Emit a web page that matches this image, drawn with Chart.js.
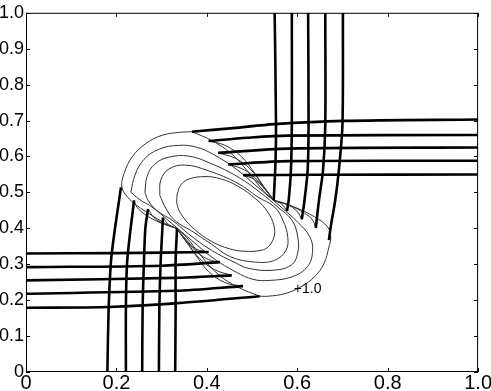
<!DOCTYPE html>
<html>
<head>
<meta charset="utf-8">
<script src="https://cdn.jsdelivr.net/npm/chart.js@4.4.0/dist/chart.umd.min.js"></script>
<style>
  html, body { margin: 0; padding: 0; background: #fff; }
  canvas { display: block; }
</style>
</head>
<body>
<canvas id="chart" width="491" height="391"></canvas>
<script>
// tick values
var xTicks = [0, 0.2, 0.4, 0.6, 0.8, 1];
var yTicks = [0, 0.1, 0.2, 0.3, 0.4, 0.5, 0.6, 0.7, 0.8, 0.9, 1];

// thick lines, each one as [x, y] pairs
var topLines = [
    [[0.550, 1], [0.553, 0.690], [0.552, 0.590], [0.548, 0.478]],
    [[0.588, 1], [0.588, 0.690], [0.586, 0.562], [0.581, 0.478], [0.577, 0.448]],
    [[0.624, 1], [0.625, 0.690], [0.623, 0.562], [0.616, 0.478], [0.610, 0.425]],
    [[0.662, 1], [0.662, 0.690], [0.657, 0.562], [0.648, 0.478], [0.641, 0.401]],
    [[0.701, 1], [0.700, 0.690], [0.692, 0.562], [0.684, 0.478], [0.674, 0.404], [0.670, 0.367]]
];
var rightLines = [
    [[0.367, 0.669], [0.458, 0.679], [0.550, 0.690], [0.700, 0.699], [1, 0.703]],
    [[0.404, 0.643], [0.490, 0.652], [0.579, 0.658], [1, 0.660]],
    [[0.425, 0.610], [0.579, 0.622], [1, 0.625]],
    [[0.447, 0.578], [0.579, 0.587], [1, 0.588]],
    [[0.480, 0.548], [0.645, 0.549], [1, 0.550]]
];
var bottomLines = [
    [[0.180, 0], [0.183, 0.181], [0.189, 0.322], [0.210, 0.514]],
    [[0.221, 0], [0.221, 0.181], [0.224, 0.311], [0.239, 0.478]],
    [[0.257, 0], [0.258, 0.181], [0.261, 0.311], [0.264, 0.400], [0.270, 0.454]],
    [[0.294, 0], [0.295, 0.181], [0.298, 0.311], [0.303, 0.430]],
    [[0.330, 0], [0.331, 0.181], [0.331, 0.311], [0.334, 0.399]]
];
var leftLines = [
    [[0, 0.330], [0.2, 0.331], [0.404, 0.334]],
    [[0, 0.292], [0.30, 0.296], [0.429, 0.306]],
    [[0, 0.255], [0.33, 0.262], [0.455, 0.269]],
    [[0, 0.218], [0.33, 0.226], [0.480, 0.239]],
    [[0, 0.179], [0.184, 0.181], [0.33, 0.191], [0.517, 0.211]]
];

// outer level curve, in four pieces (it has corners)
var outerCurve = [
    [[0.333, 0.400], [0.309, 0.413], [0.272, 0.441], [0.246, 0.463], [0.224, 0.488], [0.212, 0.515],
     [0.217, 0.553], [0.235, 0.599], [0.265, 0.636], [0.301, 0.659], [0.338, 0.667], [0.367, 0.669]],
    [[0.367, 0.669], [0.410, 0.645], [0.454, 0.608], [0.491, 0.558], [0.524, 0.506], [0.548, 0.478]],
    [[0.548, 0.478], [0.594, 0.459], [0.638, 0.432], [0.667, 0.404], [0.674, 0.376], [0.670, 0.348],
     [0.659, 0.302], [0.638, 0.265], [0.608, 0.237], [0.572, 0.218], [0.535, 0.211], [0.517, 0.211]],
    [[0.517, 0.211], [0.469, 0.236], [0.425, 0.272], [0.388, 0.322], [0.355, 0.375], [0.333, 0.400]]
];

// inner closed level curves
var contour1 = [[0.232, 0.501], [0.241, 0.548], [0.261, 0.592], [0.294, 0.620], [0.338, 0.631], [0.377, 0.626],
    [0.414, 0.606], [0.465, 0.565], [0.513, 0.514], [0.557, 0.467], [0.601, 0.417], [0.627, 0.378], [0.634, 0.339],
    [0.623, 0.294], [0.588, 0.265], [0.539, 0.255], [0.502, 0.258], [0.465, 0.278], [0.414, 0.317], [0.366, 0.367],
    [0.322, 0.414], [0.279, 0.459], [0.250, 0.481], [0.232, 0.501]];
var contour2 = [[0.263, 0.501], [0.268, 0.545], [0.285, 0.579], [0.316, 0.598], [0.360, 0.601], [0.408, 0.581],
    [0.469, 0.543], [0.520, 0.498], [0.557, 0.459], [0.588, 0.423], [0.601, 0.376], [0.601, 0.331], [0.586, 0.297],
    [0.542, 0.283], [0.491, 0.289], [0.465, 0.303], [0.410, 0.339], [0.360, 0.384], [0.325, 0.421], [0.289, 0.450],
    [0.270, 0.478], [0.263, 0.501]];
var contour3 = [[0.296, 0.492], [0.298, 0.534], [0.316, 0.565], [0.352, 0.576], [0.404, 0.560], [0.469, 0.525],
    [0.513, 0.487], [0.550, 0.459], [0.568, 0.423], [0.579, 0.376], [0.575, 0.339], [0.550, 0.311], [0.507, 0.306],
    [0.452, 0.321], [0.410, 0.356], [0.366, 0.393], [0.330, 0.421], [0.309, 0.456], [0.296, 0.492]];
var contour4 = [[0.334, 0.492], [0.342, 0.520], [0.360, 0.537], [0.396, 0.544], [0.430, 0.538], [0.469, 0.517],
    [0.509, 0.481], [0.535, 0.445], [0.548, 0.409], [0.549, 0.378], [0.537, 0.350], [0.520, 0.339], [0.485, 0.336],
    [0.450, 0.343], [0.410, 0.364], [0.373, 0.397], [0.346, 0.434], [0.334, 0.467], [0.334, 0.492]];

// thin fans between line ends and the two pinch points
var fanRight = [
    [[0.404, 0.643], [0.440, 0.631], [0.477, 0.599], [0.506, 0.553], [0.531, 0.506], [0.548, 0.478]],
    [[0.425, 0.610], [0.463, 0.595], [0.496, 0.565], [0.522, 0.523], [0.548, 0.478]],
    [[0.447, 0.578], [0.476, 0.567], [0.500, 0.548], [0.522, 0.520], [0.548, 0.478]],
    [[0.480, 0.548], [0.504, 0.537], [0.526, 0.512], [0.548, 0.478]]
];
var fanTop = [
    [[0.548, 0.478], [0.583, 0.464], [0.616, 0.442], [0.634, 0.423], [0.641, 0.401]],
    [[0.548, 0.478], [0.577, 0.467], [0.599, 0.448], [0.610, 0.425]],
    [[0.548, 0.478], [0.566, 0.467], [0.577, 0.448]]
];
var fanBottom = [
    [[0.333, 0.400], [0.296, 0.416], [0.264, 0.438], [0.246, 0.458], [0.239, 0.478]],
    [[0.333, 0.400], [0.305, 0.413], [0.283, 0.430], [0.270, 0.454]],
    [[0.333, 0.400], [0.316, 0.410], [0.303, 0.430]]
];
var fanLeft = [
    [[0.333, 0.400], [0.354, 0.369], [0.375, 0.343], [0.404, 0.334]],
    [[0.333, 0.400], [0.358, 0.360], [0.380, 0.332], [0.404, 0.313], [0.429, 0.306]],
    [[0.333, 0.400], [0.358, 0.357], [0.384, 0.316], [0.417, 0.285], [0.455, 0.269]],
    [[0.333, 0.400], [0.348, 0.374], [0.374, 0.328], [0.403, 0.281], [0.440, 0.249], [0.480, 0.239]]
];

var contourLabel = { text: '+1.0', x: 0.623, y: 0.232 };

function makeLine(points, width, color, tension) {
    return {
        data: points.map(function(p) { return { x: p[0], y: p[1] }; }),
        showLine: true,
        pointRadius: 0,
        borderWidth: width,
        borderColor: color,
        tension: tension,
        fill: false
    };
}

var datasets = [];
// thick lines first so they are drawn on top
topLines.concat(rightLines, bottomLines, leftLines).forEach(function(l) {
    datasets.push(makeLine(l, 2.6, '#000', 0.3));
});
var thin = outerCurve.concat([contour1, contour2, contour3, contour4], fanRight, fanTop, fanBottom, fanLeft);
thin.forEach(function(l) {
    datasets.push(makeLine(l, 1, '#333', 0.4));
});

// box with inward ticks, plus the level label
var framePlugin = {
    id: 'frame',
    afterDatasetsDraw: function(chart) {
        var ctx = chart.ctx;
        var a = chart.chartArea;
        var xs = chart.scales.x;
        var ys = chart.scales.y;
        ctx.save();
        ctx.strokeStyle = '#000';
        ctx.lineWidth = 1;
        ctx.strokeRect(a.left + 0.5, a.top + 0.5, a.right - a.left - 1, a.bottom - a.top - 1);
        ctx.beginPath();
        xTicks.forEach(function(v) {
            var px = Math.round(xs.getPixelForValue(v)) + 0.5;
            ctx.moveTo(px, a.bottom); ctx.lineTo(px, a.bottom - 4);
            ctx.moveTo(px, a.top); ctx.lineTo(px, a.top + 4);
        });
        yTicks.forEach(function(v) {
            var py = Math.round(ys.getPixelForValue(v)) + 0.5;
            ctx.moveTo(a.left, py); ctx.lineTo(a.left + 4, py);
            ctx.moveTo(a.right, py); ctx.lineTo(a.right - 4, py);
        });
        ctx.stroke();
        ctx.fillStyle = '#000';
        ctx.font = '14px "Liberation Sans", Arial, sans-serif';
        ctx.textAlign = 'center';
        ctx.textBaseline = 'middle';
        ctx.fillText(contourLabel.text, xs.getPixelForValue(contourLabel.x), ys.getPixelForValue(contourLabel.y));
        ctx.restore();
    }
};

new Chart(document.getElementById('chart').getContext('2d'), {
    type: 'scatter',
    data: { datasets: datasets },
    options: {
        responsive: false,
        animation: false,
        layout: { padding: { top: 12, right: 9, left: 0, bottom: 0 } },
        plugins: { legend: { display: false }, tooltip: { enabled: false } },
        scales: {
            x: {
                type: 'linear', min: 0, max: 1,
                afterBuildTicks: function(s) { s.ticks = xTicks.map(function(v) { return { value: v }; }); },
                afterFit: function(s) { s.height = 19; },
                ticks: { color: '#000', padding: -1, maxRotation: 0, autoSkip: false,
                         font: { size: 20, family: '"Liberation Sans", Arial, sans-serif' } },
                grid: { display: false, drawTicks: false },
                border: { display: false }
            },
            y: {
                type: 'linear', min: 0, max: 1,
                afterBuildTicks: function(s) { s.ticks = yTicks.map(function(v) { return { value: v }; }); },
                afterFit: function(s) { s.width = 26; },
                ticks: { color: '#000', padding: 2, autoSkip: false,
                         font: { size: 18, family: '"Liberation Sans", Arial, sans-serif' } },
                grid: { display: false, drawTicks: false },
                border: { display: false }
            }
        }
    },
    plugins: [framePlugin]
});
</script>
</body>
</html>
